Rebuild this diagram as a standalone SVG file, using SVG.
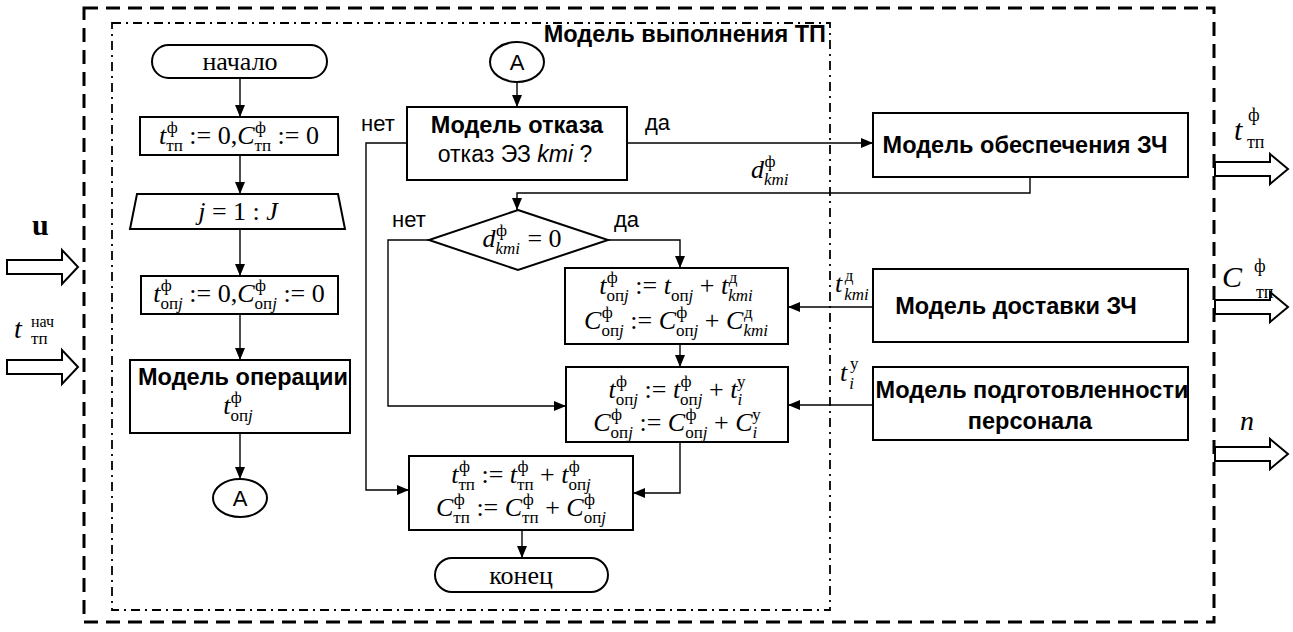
<svg xmlns="http://www.w3.org/2000/svg" width="1293" height="632" viewBox="0 0 1293 632">
<defs>
<style>
.box{fill:#fff;stroke:#000;stroke-width:2}
.ln{fill:none;stroke:#000;stroke-width:1.4}
.ar{marker-end:url(#ah)}
.f{font-family:"Liberation Serif","Times New Roman",serif;font-size:26px;fill:#000}
.i{font-style:italic}
.s{font-size:17px}
.b{font-family:"Liberation Sans",Arial,sans-serif;font-weight:bold;font-size:23.5px;fill:#000}
.r{font-family:"Liberation Sans",Arial,sans-serif;font-size:22px;fill:#000}
.blk{fill:#fff;stroke:#000;stroke-width:2}
</style>
<marker id="ah" markerUnits="userSpaceOnUse" markerWidth="12" markerHeight="10" refX="12" refY="5" orient="auto"><path d="M0,0 L12,5 L0,10 z" fill="#000"/></marker>
</defs>
<rect width="1293" height="632" fill="#fff"/>
<g id="frames">
<rect x="84" y="8" width="1130" height="614" fill="none" stroke="#000" stroke-width="3" stroke-dasharray="14 8"/>
<rect x="112" y="23" width="718" height="587" fill="none" stroke="#000" stroke-width="1.8" stroke-dasharray="9 5 2 5"/>
<text class="b" x="826" y="42" text-anchor="end">Модель выполнения ТП</text>
</g>
<g id="connectors">
<line class="ln ar" x1="240" y1="78" x2="240" y2="117"/>
<line class="ln ar" x1="240" y1="155" x2="240" y2="194"/>
<line class="ln ar" x1="240" y1="229" x2="240" y2="276"/>
<line class="ln ar" x1="240" y1="314" x2="240" y2="360"/>
<line class="ln ar" x1="240" y1="433" x2="240" y2="479"/>
<line class="ln ar" x1="517" y1="82" x2="517" y2="107"/>
<path class="ln ar" d="M407,143 H366 V490 H409"/>
<path class="ln ar" d="M627,143 H873"/>
<path class="ln ar" d="M1030,177 V193 H517 V210"/>
<path class="ln ar" d="M429,240 H388 V406 H566"/>
<path class="ln ar" d="M608,240 H680 V268"/>
<line class="ln ar" x1="680" y1="344" x2="680" y2="367"/>
<line class="ln ar" x1="873" y1="307" x2="788" y2="307"/>
<line class="ln ar" x1="873" y1="405" x2="788" y2="405"/>
<path class="ln ar" d="M680,442 V493 H633"/>
<line class="ln ar" x1="522" y1="530" x2="522" y2="558"/>
<text class="r" x="361" y="131">нет</text>
<text class="r" x="645" y="130">да</text>
<text class="r" x="392" y="227">нет</text>
<text class="r" x="614" y="227">да</text>
<text class="f" x="751" y="178"><tspan class="i">d</tspan><tspan class="s i" dy="7">kmi</tspan><tspan class="s" dx="-24" dy="-18">ф</tspan></text>
<text class="f" x="835" y="292"><tspan class="i">t</tspan><tspan class="s i" dy="8" dx="2">kmi</tspan><tspan class="s" dx="-24" dy="-19">д</tspan></text>
<text class="f" x="840" y="381"><tspan class="i">t</tspan><tspan class="s i" dy="8" dx="2">i</tspan><tspan class="s" dx="-4" dy="-20">у</tspan></text>
</g>
<g id="io">
<polygon class="blk" points="7,260 62,260 62,250 78,267 62,284 62,274 7,274"/>
<polygon class="blk" points="7,360 62,360 62,350 78,367 62,384 62,374 7,374"/>
<text x="32" y="235" style="font-family:'Liberation Serif',serif;font-weight:bold;font-size:30px">u</text>
<text class="f i" x="14" y="338" style="font-size:28px">t</text>
<text class="f" x="31" y="327" style="font-size:16px">нач</text>
<text class="f" x="31" y="344" style="font-size:17px">тп</text>
<polygon class="blk" points="1215,162 1270,162 1270,154 1288,169 1270,184 1270,176 1215,176"/>
<polygon class="blk" points="1215,300 1270,300 1270,292 1288,307 1270,322 1270,314 1215,314"/>
<polygon class="blk" points="1215,447 1270,447 1270,439 1288,454 1270,469 1270,461 1215,461"/>
<text class="f i" x="1234" y="140" style="font-size:30px">t</text>
<text class="f" x="1248" y="121" style="font-size:18px">ф</text>
<text class="f" x="1247" y="148" style="font-size:18px">тп</text>
<text class="f i" x="1222" y="287" style="font-size:30px">C</text>
<text class="f" x="1254" y="272" style="font-size:18px">ф</text>
<text class="f" x="1256" y="298" style="font-size:18px">тп</text>
<text class="f i" x="1240" y="430" style="font-size:28px">n</text>
</g>
<g id="start">
<rect class="box" x="152" y="45" width="175" height="33" rx="16.5"/>
<text class="f" x="240" y="70" text-anchor="middle">начало</text>
</g>
<g id="init-tp">
<rect class="box" x="140" y="117" width="198" height="38"/>
<text class="f" x="239" y="144" text-anchor="middle"><tspan class="i">t</tspan><tspan class="s" dy="7">тп</tspan><tspan class="s" dx="-16" dy="-18">ф</tspan><tspan dx="5" dy="11"> := 0,</tspan><tspan class="i">C</tspan><tspan class="s" dy="7">тп</tspan><tspan class="s" dx="-16" dy="-18">ф</tspan><tspan dx="5" dy="11"> := 0</tspan></text>
</g>
<g id="loop">
<polygon class="box" points="137,194 338,194 345,229 130,229"/>
<text class="f" x="238" y="220" text-anchor="middle"><tspan class="i">j</tspan> = 1 : <tspan class="i">J</tspan></text>
</g>
<g id="init-op">
<rect class="box" x="141" y="276" width="197" height="38"/>
<text class="f" x="239" y="302" text-anchor="middle"><tspan class="i">t</tspan><tspan class="s" dy="7">оп<tspan class="i">j</tspan></tspan><tspan class="s" dx="-22" dy="-18">ф</tspan><tspan dx="11" dy="11"> := 0,</tspan><tspan class="i">C</tspan><tspan class="s" dy="7">оп<tspan class="i">j</tspan></tspan><tspan class="s" dx="-22" dy="-18">ф</tspan><tspan dx="11" dy="11"> := 0</tspan></text>
</g>
<g id="op-model">
<rect class="box" x="130" y="360" width="220" height="73"/>
<text class="b" x="243" y="385" text-anchor="middle">Модель операции</text>
<text class="f" x="238" y="414" text-anchor="middle"><tspan class="i">t</tspan><tspan class="s" dy="7">оп<tspan class="i">j</tspan></tspan><tspan class="s" dx="-22" dy="-18">ф</tspan></text>
</g>
<g id="conn-a-out">
<ellipse class="box" cx="240" cy="498" rx="27" ry="19"/>
<text class="r" x="240" y="506" text-anchor="middle">A</text>
</g>
<g id="conn-a-in">
<ellipse class="box" cx="517" cy="62" rx="27" ry="20"/>
<text class="r" x="517" y="70" text-anchor="middle">A</text>
</g>
<g id="failure">
<rect class="box" x="407" y="107" width="220" height="73"/>
<text class="b" x="517" y="133" text-anchor="middle">Модель отказа</text>
<text class="r" x="515" y="162" text-anchor="middle" style="font-size:23px">отказ ЭЗ <tspan font-style="italic">kmi</tspan> ?</text>
</g>
<g id="decision">
<polygon class="box" points="518,210 608,240 518,270 429,240"/>
<text class="f" x="522" y="247" text-anchor="middle"><tspan class="i">d</tspan><tspan class="s i" dy="7">kmi</tspan><tspan class="s" dx="-24" dy="-18">ф</tspan><tspan dx="14" dy="11"> = 0</tspan></text>
</g>
<g id="calc-delivery">
<rect class="box" x="565" y="268" width="223" height="76"/>
<text class="f" x="676" y="294" text-anchor="middle"><tspan class="i">t</tspan><tspan class="s" dy="7">оп<tspan class="i">j</tspan></tspan><tspan class="s" dx="-22" dy="-18">ф</tspan><tspan dx="11" dy="11"> := </tspan><tspan class="i">t</tspan><tspan class="s" dy="7">оп<tspan class="i">j</tspan></tspan><tspan dy="-7"> + </tspan><tspan class="i">t</tspan><tspan class="s i" dy="7">kmi</tspan><tspan class="s" dx="-24" dy="-18">д</tspan></text>
<text class="f" x="676" y="329" text-anchor="middle"><tspan class="i">C</tspan><tspan class="s" dy="7">оп<tspan class="i">j</tspan></tspan><tspan class="s" dx="-22" dy="-18">ф</tspan><tspan dx="11" dy="11"> := </tspan><tspan class="i">C</tspan><tspan class="s" dy="7">оп<tspan class="i">j</tspan></tspan><tspan class="s" dx="-22" dy="-18">ф</tspan><tspan dx="11" dy="11"> + </tspan><tspan class="i">C</tspan><tspan class="s i" dy="7">kmi</tspan><tspan class="s" dx="-24" dy="-18">д</tspan></text>
</g>
<g id="calc-training">
<rect class="box" x="566" y="367" width="222" height="75"/>
<text class="f" x="677" y="398" text-anchor="middle"><tspan class="i">t</tspan><tspan class="s" dy="7">оп<tspan class="i">j</tspan></tspan><tspan class="s" dx="-22" dy="-18">ф</tspan><tspan dx="11" dy="11"> := </tspan><tspan class="i">t</tspan><tspan class="s" dy="7">оп<tspan class="i">j</tspan></tspan><tspan class="s" dx="-22" dy="-18">ф</tspan><tspan dx="11" dy="11"> + </tspan><tspan class="i">t</tspan><tspan class="s i" dy="7">i</tspan><tspan class="s" dx="-5" dy="-18">у</tspan></text>
<text class="f" x="677" y="431" text-anchor="middle"><tspan class="i">C</tspan><tspan class="s" dy="7">оп<tspan class="i">j</tspan></tspan><tspan class="s" dx="-22" dy="-18">ф</tspan><tspan dx="11" dy="11"> := </tspan><tspan class="i">C</tspan><tspan class="s" dy="7">оп<tspan class="i">j</tspan></tspan><tspan class="s" dx="-22" dy="-18">ф</tspan><tspan dx="11" dy="11"> + </tspan><tspan class="i">C</tspan><tspan class="s i" dy="7">i</tspan><tspan class="s" dx="-5" dy="-18">у</tspan></text>
</g>
<g id="calc-total">
<rect class="box" x="409" y="456" width="224" height="74"/>
<text class="f" x="521" y="483" text-anchor="middle"><tspan class="i">t</tspan><tspan class="s" dy="7">тп</tspan><tspan class="s" dx="-16" dy="-18">ф</tspan><tspan dx="5" dy="11"> := </tspan><tspan class="i">t</tspan><tspan class="s" dy="7">тп</tspan><tspan class="s" dx="-16" dy="-18">ф</tspan><tspan dx="5" dy="11"> + </tspan><tspan class="i">t</tspan><tspan class="s" dy="7">оп<tspan class="i">j</tspan></tspan><tspan class="s" dx="-22" dy="-18">ф</tspan></text>
<text class="f" x="521" y="516" text-anchor="middle"><tspan class="i">C</tspan><tspan class="s" dy="7">тп</tspan><tspan class="s" dx="-16" dy="-18">ф</tspan><tspan dx="5" dy="11"> := </tspan><tspan class="i">C</tspan><tspan class="s" dy="7">тп</tspan><tspan class="s" dx="-16" dy="-18">ф</tspan><tspan dx="5" dy="11"> + </tspan><tspan class="i">C</tspan><tspan class="s" dy="7">оп<tspan class="i">j</tspan></tspan><tspan class="s" dx="-22" dy="-18">ф</tspan></text>
</g>
<g id="end">
<rect class="box" x="435" y="558" width="173" height="34" rx="17"/>
<text class="f" x="521" y="584" text-anchor="middle">конец</text>
</g>
<g id="supply">
<rect class="box" x="873" y="113" width="315" height="64"/>
<text class="b" x="1025" y="153" text-anchor="middle">Модель обеспечения ЗЧ</text>
</g>
<g id="delivery">
<rect class="box" x="873" y="269" width="315" height="73"/>
<text class="b" x="1016" y="314" text-anchor="middle">Модель доставки ЗЧ</text>
</g>
<g id="training">
<rect class="box" x="873" y="367" width="315" height="73"/>
<text class="b" x="1032" y="398" text-anchor="middle">Модель подготовленности</text>
<text class="b" x="1030" y="429" text-anchor="middle">персонала</text>
</g>
</svg>
